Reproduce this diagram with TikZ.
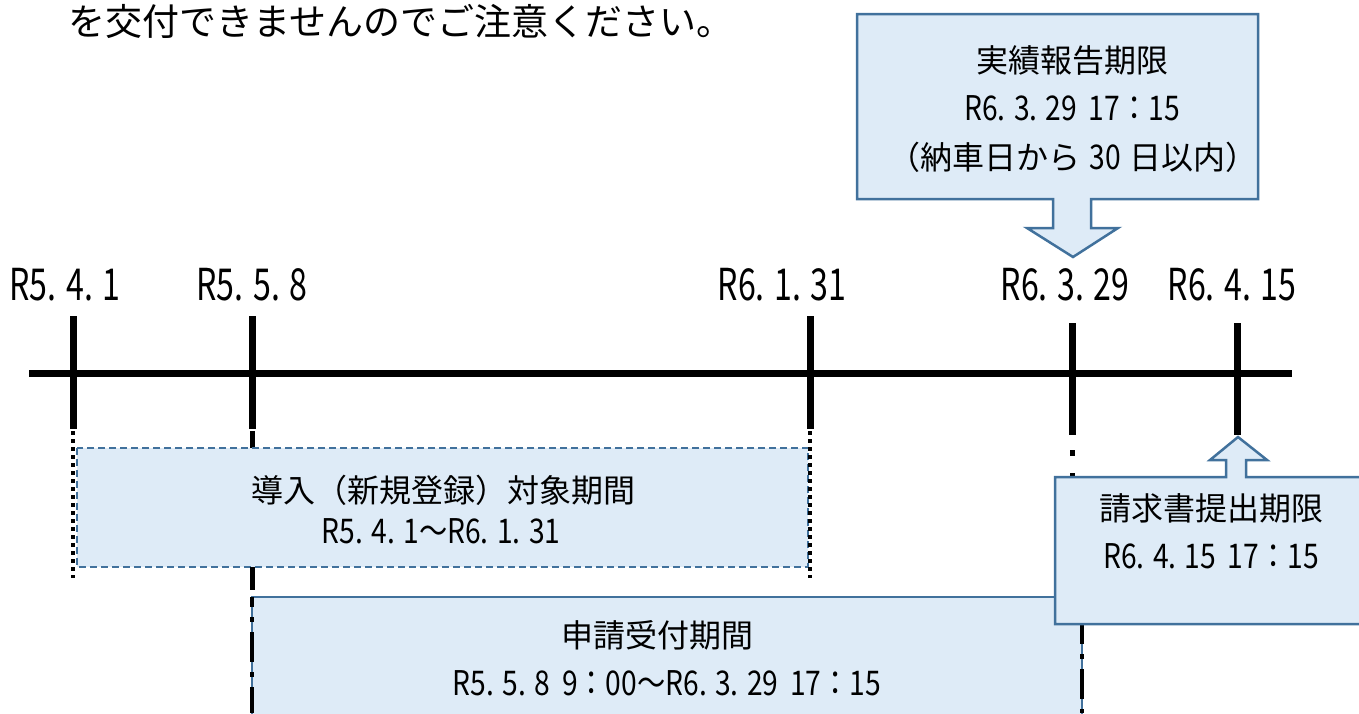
\documentclass[tikz,border=0pt]{standalone}
\usepackage{fontspec}
\setmainfont{Noto Sans CJK JP}
\usepackage{graphicx}
\definecolor{bfill}{RGB}{222,235,247}
\definecolor{bline}{RGB}{65,113,156}
\newcommand\narrow[2][0.83]{\scalebox{#1}[1]{#2}}
\newcommand\gap{\hspace{14pt}}
\tikzset{
  axisline/.style={line width=7pt},
  tickline/.style={line width=7pt},
  dotline/.style={line width=4.5pt, dash pattern=on 4pt off 4pt},
  dashdotline/.style={line width=4pt, dash pattern=on 30pt off 10pt on 5pt off 10pt},
  callout/.style={fill=bfill, draw=bline, line width=2.5pt, line join=miter},
  periodbox/.style={fill=bfill, draw=bline, line width=2pt, dashed, dash pattern=on 7pt off 4pt},
  datelabel/.style={inner sep=0pt, font=\fontsize{44}{44}\selectfont},
  boxtext/.style={inner sep=0pt, font=\fontsize{32}{32}\selectfont},
  boxnum/.style={inner sep=0pt, font=\fontsize{34}{34}\selectfont},
  toptext/.style={inner sep=0pt, anchor=west, font=\fontsize{37}{37}\selectfont},
}
\begin{document}
\begin{tikzpicture}[x=1pt,y=-1pt]
\useasboundingbox (0,0) rectangle (1359,713);
\clip (0,0) rectangle (1359,713);

% top text
\node[toptext] (note) at (68,21) {を交付できませんのでご注意ください。};

% timeline
\coordinate (axL) at (29,373);
\coordinate (axR) at (1292,373);
\draw[axisline] (axL) -- (axR);

\coordinate (t1a) at (73,316);  \coordinate (t1b) at (73,429);
\coordinate (t2a) at (252,316); \coordinate (t2b) at (252,429);
\coordinate (t3a) at (810,316); \coordinate (t3b) at (810,429);
\coordinate (t4a) at (1072,323); \coordinate (t4b) at (1072,435);
\coordinate (t5a) at (1237,323); \coordinate (t5b) at (1237,435);
\draw[tickline] (t1a) -- (t1b);
\draw[tickline] (t2a) -- (t2b);
\draw[tickline] (t3a) -- (t3b);
\draw[tickline] (t4a) -- (t4b);
\draw[tickline] (t5a) -- (t5b);

% date labels
\node[datelabel] (d1) at (65,285) {\narrow[0.73]{R5. 4. 1}};
\node[datelabel] (d2) at (252,285) {\narrow[0.73]{R5. 5. 8}};
\node[datelabel] (d3) at (782,285) {\narrow[0.73]{R6. 1. 31}};
\node[datelabel] (d4) at (1065,285) {\narrow[0.73]{R6. 3. 29}};
\node[datelabel] (d5) at (1232,285) {\narrow[0.73]{R6. 4. 15}};

% dotted guide lines
\coordinate (g1a) at (73,431); \coordinate (g1b) at (73,578);
\coordinate (g3a) at (810,431); \coordinate (g3b) at (810,578);

% R5.5.8 and R6.3.29 guide lines (upper parts)
\coordinate (g2a) at (252,431); \coordinate (g2b) at (252,448);
\draw[line width=5pt] (g2a) -- (g2b);
\coordinate (g4a) at (1072,450); \coordinate (g4b) at (1072,456);
\coordinate (g4c) at (1072,473); \coordinate (g4d) at (1072,479);
\draw[line width=5pt] (g4a) -- (g4b);
\draw[line width=5pt] (g4c) -- (g4d);

% box 1: 導入（新規登録）対象期間
\path[periodbox] (77,448) rectangle (808,567);
\node[boxtext] (b1t1) at (443,490) {導入（新規登録）対象期間};
\node[boxnum] (b1t2) at (441,531) {\narrow{R5. 4. 1～R6. 1. 31}};

\draw[dotline] (g1a) -- (g1b);
\draw[dotline] (g3a) -- (g3b);

% R5.5.8 line between boxes
\coordinate (g2c) at (252,567); \coordinate (g2d) at (252,590);
\draw[line width=5pt] (g2c) -- (g2d);

% box 2: 申請受付期間
\path[fill=bfill, draw=bline, line width=2.5pt] (252,597) rectangle (1082,730);
\node[boxtext] (b2t1) at (657,635) {申請受付期間};
\node[boxnum] (b2t2) at (667,683) {\narrow{R5. 5. 8\gap 9：00～R6. 3. 29\gap 17：15}};
\coordinate (e2a) at (252,597); \coordinate (e2b) at (252,713);
\coordinate (e2c) at (1082,624); \coordinate (e2d) at (1082,713);
\draw[dashdotline, dash phase=20pt] (e2a) -- (e2b);
\draw[dashdotline, dash phase=10pt] (e2c) -- (e2d);

% box 3: 請求書提出期限 (up arrow callout)
\path[callout] (1055,477) -- (1226,477) -- (1226,460) -- (1210,460) -- (1238,437)
  -- (1267,460) -- (1246,460) -- (1246,477) -- (1375,477) -- (1375,624)
  -- (1055,624) -- cycle;
\node[boxtext] (b3t1) at (1211,508) {請求書提出期限};
\node[boxnum] (b3t2) at (1211,556) {\narrow{R6. 4. 15\gap 17：15}};

% box 4: 実績報告期限 (down arrow callout)
\path[callout] (857,14) -- (1258,14) -- (1258,199) -- (1091,199) -- (1091,228)
  -- (1118,228) -- (1073,257) -- (1027,228) -- (1053,228) -- (1053,199)
  -- (857,199) -- cycle;
\node[boxtext] (b4t1) at (1072,60) {実績報告期限};
\node[boxnum] (b4t2) at (1072,108) {\narrow{R6. 3. 29\gap 17：15}};
\node[boxtext] (b4t3) at (1073,157) {（納車日から\hspace{9pt}\narrow{\fontsize{34}{34}\selectfont 30}\hspace{9pt}日以内）};
\end{tikzpicture}
\end{document}
